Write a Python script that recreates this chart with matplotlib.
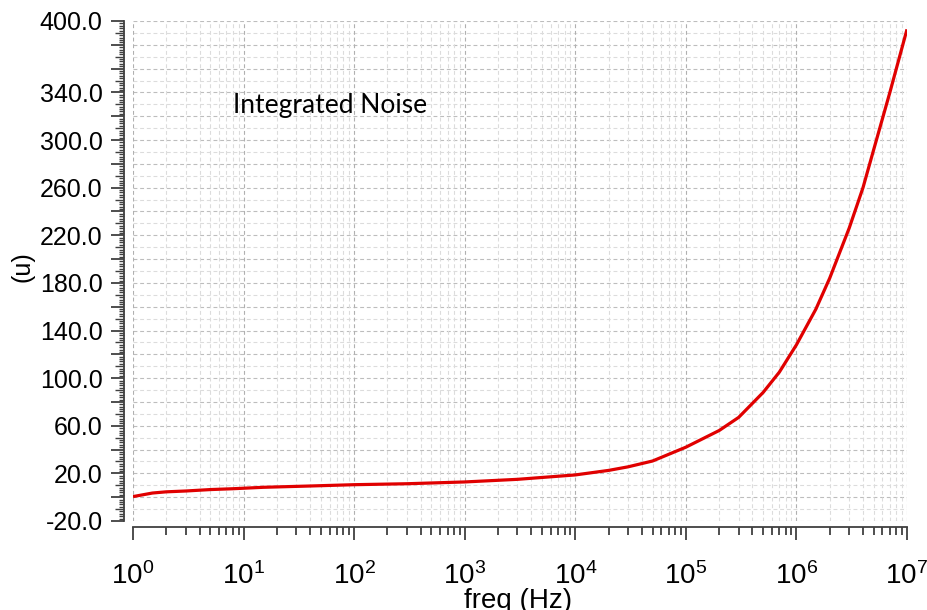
import numpy as np
import matplotlib
matplotlib.use("Agg")
import matplotlib.pyplot as plt
from matplotlib.ticker import FixedLocator, FixedFormatter, LogLocator, NullFormatter, LogFormatterMathtext

plt.rcParams['font.family'] = ['Liberation Sans', 'DejaVu Sans']
plt.rcParams['mathtext.fontset'] = 'custom'
plt.rcParams['mathtext.rm'] = 'Liberation Sans'
plt.rcParams['mathtext.it'] = 'Liberation Sans:italic'

# integrated noise vs. frequency (values in u)
freq = [1, 1.5, 2, 3, 5, 8, 15, 40, 100, 300, 1e3, 3e3, 1e4, 2e4, 3e4, 5e4,
        1e5, 2e5, 3e5, 5e5, 7e5, 1e6, 1.5e6, 2e6, 3e6, 4e6, 5e6, 7e6, 1e7]
noise = [0.5, 3.5, 4.5, 5.2, 6.4, 7.1, 8.3, 9.4, 10.5, 11.3, 12.8, 15.0, 18.7, 22.5, 25.5, 30.4,
         42, 56, 67, 88, 105, 128, 158, 184, 226, 260, 292, 340, 393]

x_decades = [1, 1e1, 1e2, 1e3, 1e4, 1e5, 1e6, 1e7]
y_major = list(range(-20, 401, 20))
y_labels = ['-20.0', '20.0', '60.0', '100.0', '140.0', '180.0', '220.0', '260.0', '300.0', '340.0', '400.0']
y_label_pos = [-20, 20, 60, 100, 140, 180, 220, 260, 300, 340, 400]

fig = plt.figure(figsize=(9.27, 6.10), dpi=100)
ax = fig.add_axes([133 / 927, 1 - 521 / 610, 774 / 927, 500 / 610])

ax.plot(freq, noise, color='#e00000', lw=2.3, solid_capstyle='butt')

ax.set_xscale('log')
ax.set_xlim(1, 1e7)
ax.set_ylim(-20, 400)

# grid: every 20 a bit darker, the 10s in between lighter
dash = (0, (3.5, 2.5))
for y in range(-20, 401, 10):
    c = '#bdbdbd' if (y + 20) % 20 == 0 else '#dcdcdc'
    ax.axhline(y, color=c, lw=0.8, ls=dash, zorder=0)
ax.xaxis.set_major_locator(FixedLocator(x_decades))
ax.xaxis.set_major_formatter(LogFormatterMathtext())
ax.xaxis.set_minor_locator(LogLocator(base=10, subs=np.arange(2, 10), numticks=10))
ax.xaxis.set_minor_formatter(NullFormatter())
ax.grid(True, which='major', axis='x', color='#b0b0b0', lw=0.8, ls=dash)
ax.grid(True, which='minor', axis='x', color='#dcdcdc', lw=0.8, ls=dash)
ax.set_axisbelow(True)

# y ticks: long every 20, medium every 10, short every 2
ax.yaxis.set_major_locator(FixedLocator(y_major))
ax.yaxis.set_major_formatter(FixedFormatter(
    [y_labels[y_label_pos.index(v)] if v in y_label_pos else '' for v in y_major]))
minor = [v for v in range(-20, 401, 2) if (v + 20) % 20 != 0]
ax.yaxis.set_minor_locator(FixedLocator(minor))

for s in ['top', 'right']:
    ax.spines[s].set_visible(False)
ax.spines['left'].set_position(('outward', 6.5))
ax.spines['bottom'].set_position(('outward', 4.5))
for s in ['left', 'bottom']:
    ax.spines[s].set_color('#404040')
    ax.spines[s].set_linewidth(1.3)

ax.tick_params(axis='y', which='major', direction='out', length=9.4, width=1.3,
               color='#404040', pad=6, labelsize=18)
ax.tick_params(axis='y', which='minor', direction='out', length=3.6, width=1.0, color='#404040')
for t, v in zip(ax.yaxis.get_minor_ticks(), minor):
    if (v + 20) % 10 == 0:
        t.tick1line.set_markersize(6.5)

ax.tick_params(axis='x', which='major', direction='out', length=9, width=1.3,
               color='#404040', pad=16, labelsize=20)
ax.tick_params(axis='x', which='minor', direction='out', length=5.5, width=1.3, color='#404040')

fig.text(22 / 927, 1 - 267 / 610, '(u)', rotation=90, ha='center', va='center', fontsize=18)
fig.text(518 / 927, 2 / 610, 'freq (Hz)', ha='center', va='baseline', fontsize=20)
fig.text(233 / 927, 1 - 113 / 610, 'Integrated Noise', ha='left', va='baseline',
         fontsize=19, family=['Lato', 'DejaVu Sans'])

fig.savefig('out.png', dpi=100)
